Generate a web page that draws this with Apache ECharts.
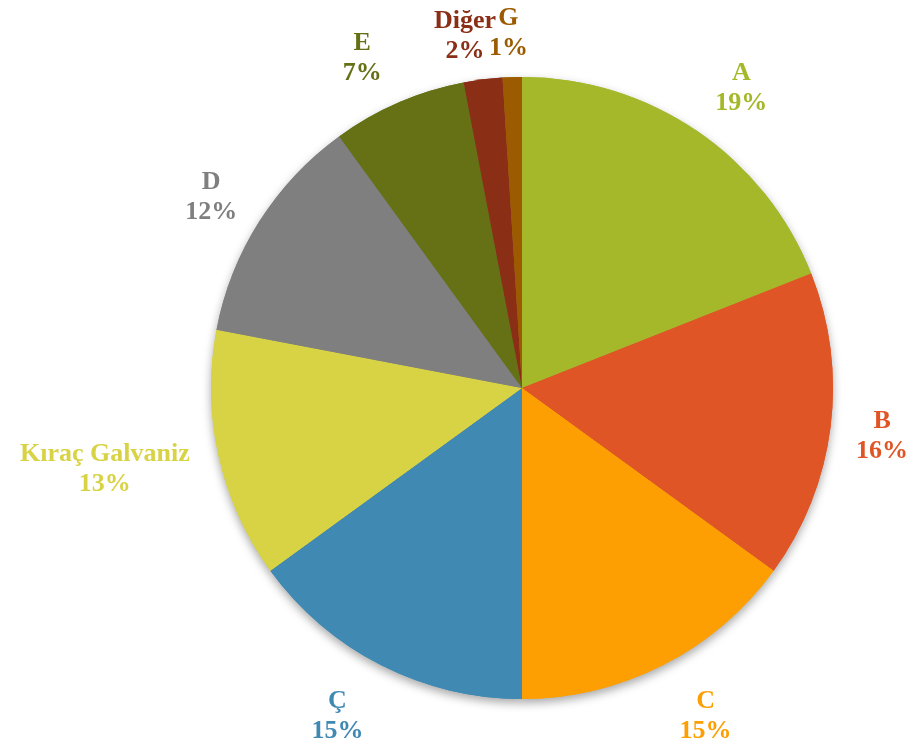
<!DOCTYPE html>
<html>
<head>
<meta charset="utf-8">
<title>Pie</title>
<script src="https://cdn.jsdelivr.net/npm/echarts@6/dist/echarts.min.js"></script>
<style>
  html, body { margin: 0; padding: 0; background: #fff; }
  #chart { width: 914px; height: 744px; }
</style>
</head>
<body>
<div id="chart"></div>
<script>
const categories = ['A', 'B', 'C', 'Ç', 'Kıraç Galvaniz', 'D', 'E', 'Diğer', 'G'];
const shares = [19, 16, 15, 15, 13, 12, 7, 2, 1];
const colors = ['#A5B82A', '#E05526', '#FD9F02', '#3F89B3', '#D8D345', '#7F7F7F', '#667116', '#8B2E16', '#9C5B00'];

// small nudges so the labels sit where the original put them
const labelNudge = [[13, 4], [-4, 2], [17, 1], [-18, 1], [-59, 1], [-1, 6], [-14, 7], [-11, 12], [-2, 12]];

const center = [522, 388];
const pieData = categories.map((name, i) => ({
  name,
  value: shares[i],
  itemStyle: { color: colors[i] },
}));
// same values, transparent sectors, coloured text
const labelData = categories.map((name, i) => ({
  name,
  value: shares[i],
  itemStyle: { color: 'rgba(0,0,0,0)' },
  label: { color: colors[i] },
}));

const chart = echarts.init(document.getElementById('chart'));

chart.setOption({
  backgroundColor: '#ffffff',
  animation: false,
  series: [
    // shadow underlay
    {
      type: 'pie',
      silent: true,
      center,
      radius: [0, 311],
      startAngle: 90,
      clockwise: true,
      z: 1,
      label: { show: false },
      labelLine: { show: false },
      itemStyle: {
        borderWidth: 0,
        shadowBlur: 10,
        shadowOffsetY: 4,
        shadowColor: 'rgba(0, 0, 0, 0.35)',
      },
      data: pieData,
    },
    // slices
    {
      type: 'pie',
      silent: true,
      center,
      radius: [0, 311],
      startAngle: 90,
      clockwise: true,
      z: 2,
      label: { show: false },
      labelLine: { show: false },
      itemStyle: { borderWidth: 0 },
      data: pieData,
    },
    // invisible ring that carries the labels
    {
      type: 'pie',
      silent: true,
      center,
      radius: [330, 398],
      startAngle: 90,
      clockwise: true,
      z: 3,
      itemStyle: { borderWidth: 0 },
      labelLine: { show: false },
      label: {
        show: true,
        position: 'inside',
        formatter: (p) => p.name + '\n' + p.value + '%',
        fontFamily: '"Liberation Serif", "Times New Roman", serif',
        fontWeight: 'bold',
        fontSize: 26,
        lineHeight: 30,
        align: 'center',
      },
      labelLayout: (params) => ({
        dx: labelNudge[params.dataIndex][0],
        dy: labelNudge[params.dataIndex][1],
      }),
      data: labelData,
    },
  ],
});
</script>
</body>
</html>
